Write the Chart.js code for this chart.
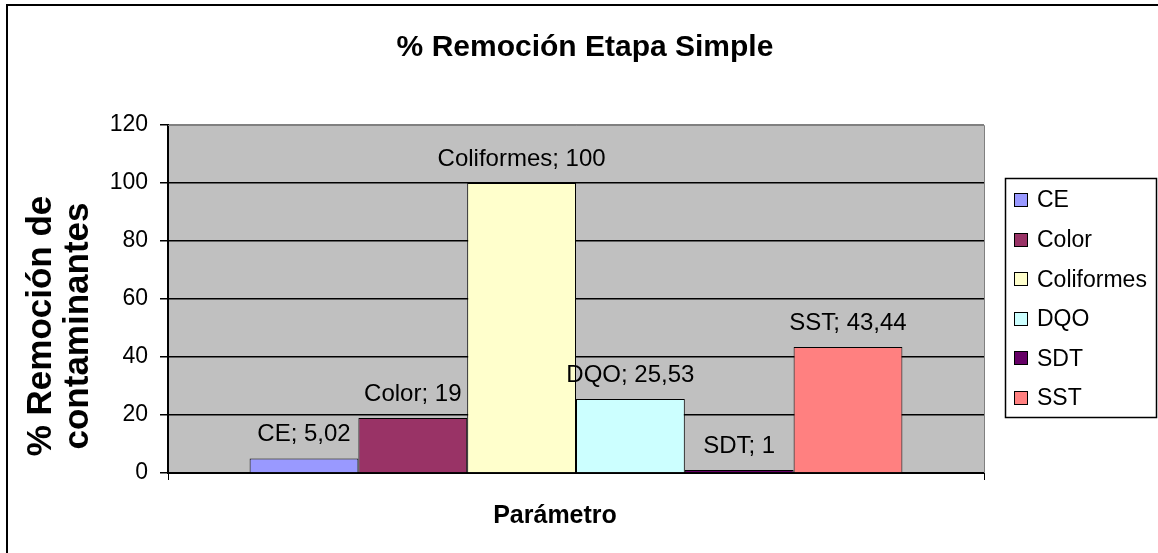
<!DOCTYPE html>
<html>
<head>
<meta charset="utf-8">
<script src="https://cdn.jsdelivr.net/npm/chart.js@4.4.1/dist/chart.umd.min.js"></script>
<style>
  html, body { margin: 0; padding: 0; background: #ffffff; }
  #wrap { width: 1158px; height: 553px; position: relative; }
  canvas { display: block; }
</style>
</head>
<body>
<div id="wrap"><canvas id="c" width="1158" height="553"></canvas></div>
<script>
const chartTitle = '% Remoción Etapa Simple';
const yAxisTitle = ['% Remoción de', 'contaminantes'];
const xAxisTitle = 'Parámetro';
const categories = [''];
const seriesNames = ['CE', 'Color', 'Coliformes', 'DQO', 'SDT', 'SST'];
const seriesValues = [5.02, 19, 100, 25.53, 1, 43.44];
const seriesColors = ['#9999FF', '#993366', '#FFFFCC', '#CCFFFF', '#660066', '#FF8080'];
const yTicks = [0, 20, 40, 60, 80, 100, 120];

const FONT = '"Liberation Sans", Arial, sans-serif';

const datasets = seriesNames.map((name, i) => ({
  label: name,
  data: [seriesValues[i]],
  backgroundColor: seriesColors[i],
  borderColor: '#000000',
  borderWidth: 1,
  borderSkipped: 'bottom',
  categoryPercentage: 0.8,
  barPercentage: 1.0
}));

const decorPlugin = {
  id: 'decor',
  beforeDraw(chart) {
    const { ctx, chartArea: a } = chart;
    ctx.save();
    ctx.fillStyle = '#ffffff';
    ctx.fillRect(0, 0, chart.width, chart.height);
    ctx.fillStyle = '#C0C0C0';
    ctx.fillRect(a.left, a.top, a.right - a.left, a.bottom - a.top);
    ctx.restore();
  },
  afterDatasetsDraw(chart) {
    const { ctx, chartArea: a } = chart;
    ctx.save();
    // plot area top/right border (gray)
    ctx.strokeStyle = '#808080';
    ctx.lineWidth = 1;
    ctx.beginPath();
    ctx.moveTo(a.left, a.top + 0.5);
    ctx.lineTo(a.right + 0.5, a.top + 0.5);
    ctx.lineTo(a.right + 0.5, a.bottom);
    ctx.stroke();
    // data labels
    ctx.fillStyle = '#000000';
    ctx.font = '24px ' + FONT;
    ctx.textAlign = 'center';
    ctx.textBaseline = 'alphabetic';
    chart.data.datasets.forEach((ds, i) => {
      const el = chart.getDatasetMeta(i).data[0];
      const txt = ds.label + '; ' + String(ds.data[0]).replace('.', ',');
      ctx.fillText(txt, el.x, el.y - 17);
    });
    ctx.restore();
  },
  afterDraw(chart) {
    const { ctx } = chart;
    ctx.save();
    // outer frame
    ctx.strokeStyle = '#000000';
    ctx.lineWidth = 2;
    ctx.strokeRect(7, 5, 1170, 570);
    // title
    ctx.fillStyle = '#000000';
    ctx.font = 'bold 30px ' + FONT;
    ctx.textAlign = 'center';
    ctx.textBaseline = 'alphabetic';
    ctx.fillText(chartTitle, 585, 56);
    // x axis title
    ctx.font = 'bold 25px ' + FONT;
    ctx.fillText(xAxisTitle, 555, 523);
    // y axis title
    ctx.save();
    ctx.translate(0, 326);
    ctx.rotate(-Math.PI / 2);
    ctx.font = 'bold 35px ' + FONT;
    ctx.textBaseline = 'middle';
    ctx.fillText(yAxisTitle[0], 0, 41);
    ctx.fillText(yAxisTitle[1], 0, 78);
    ctx.restore();
    // legend
    ctx.fillStyle = '#ffffff';
    ctx.fillRect(1005, 178, 151, 239);
    ctx.strokeStyle = '#000000';
    ctx.lineWidth = 1.5;
    ctx.strokeRect(1005.5, 178.5, 151, 239);
    ctx.font = '23px ' + FONT;
    ctx.textAlign = 'left';
    ctx.textBaseline = 'middle';
    chart.data.datasets.forEach((ds, i) => {
      const y = 200 + i * 39.6;
      ctx.fillStyle = ds.backgroundColor;
      ctx.fillRect(1014, Math.round(y - 7), 14, 14);
      ctx.strokeStyle = '#000000';
      ctx.lineWidth = 1;
      ctx.strokeRect(1014.5, Math.round(y - 7) + 0.5, 13, 13);
      ctx.fillStyle = '#000000';
      ctx.fillText(ds.label, 1037, y + 1);
    });
    ctx.restore();
  }
};

new Chart(document.getElementById('c'), {
  type: 'bar',
  data: { labels: categories, datasets },
  options: {
    responsive: false,
    animation: false,
    devicePixelRatio: 1,
    layout: { padding: { left: 0, right: 174, top: 125, bottom: 0 } },
    plugins: {
      legend: { display: false },
      title: { display: false },
      tooltip: { enabled: false }
    },
    scales: {
      x: {
        ticks: { display: false },
        grid: { display: true, offset: true, drawOnChartArea: false, drawTicks: true, tickLength: 7, color: '#000000', lineWidth: 1 },
        border: { display: true, color: '#000000', width: 2 },
        afterFit(scale) { scale.height = 80; }
      },
      y: {
        min: yTicks[0],
        max: yTicks[yTicks.length - 1],
        afterBuildTicks(scale) { scale.ticks = yTicks.map(v => ({ value: v })); },
        ticks: {
          color: '#000000',
          font: { family: FONT, size: 23 },
          padding: 12,
          callback: (v) => String(v)
        },
        grid: {
          color: (c) => (c.tick && c.tick.value === yTicks[yTicks.length - 1]) ? '#808080' : '#000000',
          tickColor: '#000000',
          lineWidth: 1.5,
          tickLength: 8,
          drawTicks: true
        },
        border: { display: true, color: '#000000', width: 2 },
        afterFit(scale) { scale.width = 168; }
      }
    }
  },
  plugins: [decorPlugin]
});
</script>
</body>
</html>
